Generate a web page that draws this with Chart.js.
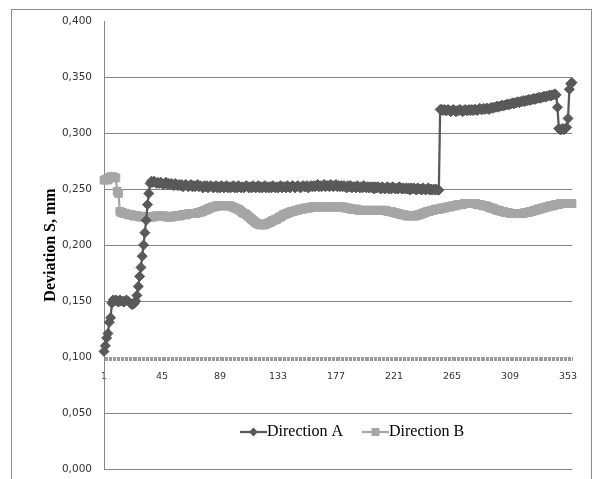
<!DOCTYPE html>
<html>
<head>
<meta charset="utf-8">
<script src="https://cdn.jsdelivr.net/npm/chart.js@4.4.1/dist/chart.umd.min.js"></script>
<style>
  html, body { margin: 0; padding: 0; background: #fff; }
  #wrap { position: relative; width: 594px; height: 479px; overflow: hidden; }
  #frame { position: absolute; left: 11px; top: 9px; width: 579px; height: 480px; border: 1px solid #8c8c8c; border-bottom: none; }
  canvas { position: absolute; left: 0; top: 0; }
</style>
</head>
<body>
<div id="wrap">
  <div id="frame"></div>
  <canvas id="chart" width="594" height="479"></canvas>
</div>
<script>
// measurement index 1..356
const categories = Array.from({ length: 356 }, (_, i) => String(i + 1));
const xTickLabels = ["1", "45", "89", "133", "177", "221", "265", "309", "353"];

const directionA = [
  0.105, 0.110, 0.117, 0.121, 0.131, 0.135, 0.148, 0.151, 0.150, 0.151,
  0.150, 0.149, 0.151, 0.150, 0.150, 0.149, 0.150, 0.151, 0.150, 0.149,
  0.148, 0.147, 0.147, 0.148, 0.150, 0.155, 0.163, 0.172, 0.180, 0.190,
  0.200, 0.211, 0.222, 0.236, 0.246, 0.255, 0.257, 0.256, 0.257, 0.256,
  0.255, 0.256, 0.255, 0.256, 0.255, 0.254, 0.255, 0.256, 0.254, 0.255,
  0.254, 0.255, 0.254, 0.253, 0.255, 0.254, 0.253, 0.254, 0.253, 0.254,
  0.252, 0.253, 0.254, 0.253, 0.252, 0.253, 0.254, 0.252, 0.253, 0.252,
  0.253, 0.254, 0.252, 0.253, 0.252, 0.251, 0.253, 0.252, 0.253, 0.251,
  0.252, 0.253, 0.252, 0.251, 0.252, 0.253, 0.251, 0.252, 0.251, 0.253,
  0.252, 0.251, 0.252, 0.253, 0.251, 0.252, 0.251, 0.252, 0.253, 0.251,
  0.252, 0.251, 0.253, 0.252, 0.251, 0.252, 0.251, 0.252, 0.253, 0.252,
  0.251, 0.252, 0.251, 0.253, 0.252, 0.251, 0.252, 0.253, 0.251, 0.252,
  0.251, 0.252, 0.253, 0.251, 0.252, 0.251, 0.252, 0.251, 0.253, 0.252,
  0.251, 0.252, 0.251, 0.252, 0.253, 0.251, 0.252, 0.252, 0.251, 0.253,
  0.252, 0.251, 0.252, 0.253, 0.252, 0.251, 0.252, 0.253, 0.252, 0.251,
  0.252, 0.253, 0.252, 0.252, 0.253, 0.251, 0.252, 0.253, 0.252, 0.253,
  0.252, 0.253, 0.254, 0.252, 0.253, 0.252, 0.253, 0.254, 0.252, 0.253,
  0.253, 0.252, 0.254, 0.253, 0.252, 0.253, 0.254, 0.252, 0.253, 0.252,
  0.253, 0.252, 0.253, 0.252, 0.251, 0.253, 0.252, 0.253, 0.251, 0.252,
  0.252, 0.251, 0.253, 0.252, 0.251, 0.252, 0.251, 0.253, 0.252, 0.251,
  0.252, 0.251, 0.252, 0.251, 0.252, 0.250, 0.252, 0.251, 0.252, 0.251,
  0.250, 0.252, 0.251, 0.250, 0.251, 0.252, 0.250, 0.251, 0.250, 0.252,
  0.251, 0.250, 0.251, 0.250, 0.252, 0.251, 0.250, 0.251, 0.250, 0.251,
  0.250, 0.251, 0.249, 0.251, 0.250, 0.251, 0.250, 0.249, 0.251, 0.250,
  0.250, 0.249, 0.251, 0.250, 0.249, 0.250, 0.251, 0.249, 0.250, 0.249,
  0.250, 0.249, 0.250, 0.249, 0.249, 0.321, 0.321, 0.320, 0.321, 0.320,
  0.320, 0.321, 0.320, 0.319, 0.320, 0.321, 0.320, 0.319, 0.320, 0.320,
  0.321, 0.320, 0.319, 0.320, 0.321, 0.320, 0.320, 0.321, 0.320, 0.321,
  0.320, 0.321, 0.321, 0.320, 0.321, 0.322, 0.321, 0.321, 0.322, 0.321,
  0.322, 0.322, 0.321, 0.322, 0.323, 0.322, 0.323, 0.323, 0.324, 0.323,
  0.324, 0.324, 0.325, 0.324, 0.325, 0.325, 0.326, 0.325, 0.326, 0.326,
  0.327, 0.326, 0.327, 0.327, 0.328, 0.327, 0.328, 0.328, 0.329, 0.328,
  0.329, 0.329, 0.330, 0.329, 0.330, 0.330, 0.331, 0.330, 0.331, 0.331,
  0.332, 0.331, 0.332, 0.332, 0.333, 0.332, 0.333, 0.333, 0.334, 0.333,
  0.334, 0.334, 0.335, 0.334, 0.323, 0.304, 0.303, 0.303, 0.304, 0.303,
  0.304, 0.305, 0.313, 0.339, 0.344, 0.345
];

const directionB = [
  0.258, 0.258, 0.259, 0.258, 0.260, 0.261, 0.260, 0.261, 0.260, 0.260,
  0.248, 0.246, 0.230, 0.229, 0.229, 0.228, 0.228, 0.228, 0.227, 0.227,
  0.227, 0.227, 0.226, 0.226, 0.226, 0.226, 0.226, 0.225, 0.225, 0.225,
  0.225, 0.225, 0.225, 0.225, 0.225, 0.225, 0.225, 0.225, 0.225, 0.226,
  0.226, 0.226, 0.226, 0.226, 0.226, 0.226, 0.226, 0.225, 0.225, 0.225,
  0.225, 0.225, 0.225, 0.226, 0.226, 0.226, 0.226, 0.226, 0.226, 0.227,
  0.227, 0.227, 0.227, 0.227, 0.228, 0.228, 0.228, 0.228, 0.228, 0.228,
  0.228, 0.229, 0.229, 0.229, 0.230, 0.230, 0.231, 0.231, 0.232, 0.232,
  0.233, 0.233, 0.234, 0.234, 0.234, 0.235, 0.235, 0.235, 0.235, 0.235,
  0.235, 0.235, 0.235, 0.235, 0.235, 0.235, 0.235, 0.234, 0.234, 0.233,
  0.233, 0.232, 0.232, 0.231, 0.230, 0.229, 0.228, 0.228, 0.227, 0.226,
  0.225, 0.224, 0.223, 0.222, 0.221, 0.220, 0.219, 0.219, 0.218, 0.218,
  0.218, 0.218, 0.218, 0.219, 0.219, 0.220, 0.220, 0.221, 0.222, 0.222,
  0.223, 0.223, 0.224, 0.225, 0.225, 0.226, 0.227, 0.227, 0.228, 0.228,
  0.229, 0.229, 0.230, 0.230, 0.230, 0.231, 0.231, 0.231, 0.232, 0.232,
  0.232, 0.232, 0.233, 0.233, 0.233, 0.233, 0.233, 0.234, 0.234, 0.234,
  0.234, 0.234, 0.234, 0.234, 0.234, 0.234, 0.234, 0.234, 0.234, 0.234,
  0.234, 0.234, 0.234, 0.234, 0.234, 0.234, 0.234, 0.234, 0.234, 0.234,
  0.234, 0.234, 0.234, 0.233, 0.233, 0.233, 0.233, 0.232, 0.232, 0.232,
  0.232, 0.232, 0.232, 0.231, 0.231, 0.231, 0.231, 0.231, 0.231, 0.231,
  0.231, 0.231, 0.231, 0.231, 0.231, 0.231, 0.231, 0.231, 0.231, 0.231,
  0.231, 0.231, 0.231, 0.231, 0.231, 0.230, 0.230, 0.230, 0.230, 0.229,
  0.229, 0.229, 0.228, 0.228, 0.228, 0.227, 0.227, 0.227, 0.227, 0.226,
  0.226, 0.226, 0.226, 0.226, 0.226, 0.226, 0.226, 0.226, 0.227, 0.227,
  0.227, 0.228, 0.228, 0.229, 0.229, 0.230, 0.230, 0.230, 0.231, 0.231,
  0.231, 0.232, 0.232, 0.232, 0.232, 0.232, 0.233, 0.233, 0.233, 0.233,
  0.234, 0.234, 0.234, 0.234, 0.235, 0.235, 0.235, 0.235, 0.236, 0.236,
  0.236, 0.236, 0.236, 0.237, 0.237, 0.237, 0.237, 0.237, 0.237, 0.237,
  0.237, 0.237, 0.237, 0.236, 0.236, 0.236, 0.236, 0.235, 0.235, 0.235,
  0.235, 0.234, 0.234, 0.233, 0.233, 0.233, 0.232, 0.232, 0.231, 0.231,
  0.231, 0.230, 0.230, 0.230, 0.229, 0.229, 0.229, 0.229, 0.228, 0.228,
  0.228, 0.228, 0.228, 0.228, 0.228, 0.228, 0.228, 0.228, 0.228, 0.229,
  0.229, 0.229, 0.229, 0.230, 0.230, 0.230, 0.231, 0.231, 0.231, 0.232,
  0.232, 0.232, 0.233, 0.233, 0.233, 0.234, 0.234, 0.234, 0.235, 0.235,
  0.235, 0.235, 0.236, 0.236, 0.236, 0.236, 0.237, 0.237, 0.237, 0.237,
  0.237, 0.237, 0.237, 0.237, 0.237, 0.237
];

const colorA = "#595959";
const colorB = "#a6a6a6";
const gridColor = "#868686";

// legend sits inside the plot, near the bottom
const innerLegend = {
  id: "innerLegend",
  afterDraw(chart) {
    const { ctx, chartArea } = chart;
    const y = chartArea.bottom - 37;
    let x = 240;
    ctx.save();
    ctx.font = "16px 'Liberation Serif', 'Times New Roman', serif";
    ctx.textBaseline = "middle";
    chart.data.datasets.forEach((ds) => {
      ctx.strokeStyle = ds.borderColor;
      ctx.fillStyle = ds.borderColor;
      ctx.lineWidth = 2.25;
      ctx.beginPath();
      ctx.moveTo(x, y);
      ctx.lineTo(x + 27, y);
      ctx.stroke();
      const cx = x + 13.5;
      ctx.beginPath();
      if (ds.pointStyle === "rectRot") {
        ctx.moveTo(cx - 4.5, y);
        ctx.lineTo(cx, y - 4.5);
        ctx.lineTo(cx + 4.5, y);
        ctx.lineTo(cx, y + 4.5);
        ctx.closePath();
      } else {
        ctx.rect(cx - 4, y - 4, 8, 8);
      }
      ctx.fill();
      ctx.fillStyle = "#000";
      ctx.fillText(ds.label, x + 27, y);
      x += 27 + ctx.measureText(ds.label).width + 19;
    });
    ctx.restore();
  },
};

new Chart(document.getElementById("chart"), {
  type: "line",
  data: {
    labels: categories,
    datasets: [
      {
        label: "Direction A",
        data: directionA,
        borderColor: colorA,
        backgroundColor: colorA,
        borderWidth: 2.25,
        pointStyle: "rectRot",
        pointRadius: 5,
        pointBorderWidth: 1,
        tension: 0,
      },
      {
        label: "Direction B",
        data: directionB,
        borderColor: colorB,
        backgroundColor: colorB,
        borderWidth: 2.25,
        pointStyle: "rect",
        pointRadius: 5.5,
        pointBorderWidth: 1,
        tension: 0,
      },
    ],
  },
  options: {
    responsive: false,
    animation: false,
    devicePixelRatio: 1,
    layout: { padding: { left: 10, right: 22, top: 21, bottom: 10 } },
    plugins: {
      legend: { display: false },
      tooltip: { enabled: false },
    },
    scales: {
      x: {
        position: { y: 0.1 },
        offset: false,
        afterFit: (scale) => {
          scale.height = 0;
        },
        border: { display: false },
        grid: {
          drawOnChartArea: false,
          drawTicks: true,
          tickLength: 4,
          color: "#9a9a9a",
        },
        ticks: {
          autoSkip: false,
          maxRotation: 0,
          minRotation: 0,
          padding: 10,
          color: "#333",
          font: { family: "'DejaVu Sans', sans-serif", size: 9.5 },
          callback: function (value, index) {
            const lbl = this.getLabelForValue(value);
            return xTickLabels.includes(lbl) ? lbl : "";
          },
        },
      },
      y: {
        min: 0,
        max: 0.4,
        afterFit: (scale) => {
          scale.width = 94;
          scale.paddingTop = 0;
          scale.paddingBottom = 0;
        },
        border: { display: true, color: gridColor },
        grid: {
          drawTicks: false,
          color: (c) => {
            const v = Math.round(c.tick.value * 1000);
            return v === 400 || v === 100 ? "rgba(0,0,0,0)" : gridColor;
          },
        },
        ticks: {
          stepSize: 0.05,
          padding: 12,
          color: "#333",
          font: { family: "'DejaVu Sans', sans-serif", size: 10.5 },
          callback: (v) => v.toFixed(3).replace(".", ","),
        },
        title: {
          display: true,
          text: "Deviation S, mm",
          color: "#000",
          padding: { top: 31, bottom: 0 },
          font: { family: "'Liberation Serif', 'Times New Roman', serif", size: 16, weight: "bold" },
        },
      },
    },
  },
  plugins: [innerLegend],
});
</script>
</body>
</html>
